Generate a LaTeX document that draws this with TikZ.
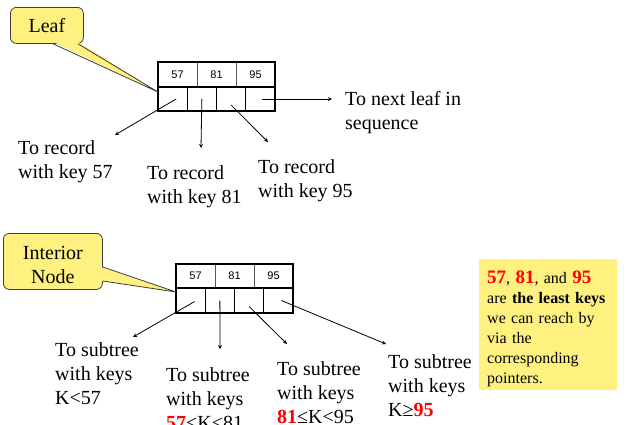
\documentclass[tikz,border=0pt]{standalone}
\usepackage{fontspec}
\setmainfont{Liberation Serif}
\newfontfamily\keyfont{Liberation Sans}
\usetikzlibrary{positioning}

\definecolor{noteyellow}{RGB}{255,241,128}
\definecolor{tagline}{RGB}{60,60,60}
\newcommand{\redkey}[1]{\textcolor{red}{\textbf{#1}}}
\newcommand{\bigred}[1]{{\fontsize{19}{20}\selectfont\bfseries\color{red}#1}}

\tikzset{
  keycell/.style={draw=gray!70!black, line width=0.8pt, minimum width=39pt, minimum height=25pt,
    inner sep=0pt, outer sep=0pt, font=\keyfont\fontsize{11}{13}\selectfont},
  ptrcell/.style={draw=black, line width=1pt, minimum width=29.25pt, minimum height=24pt,
    inner sep=0pt, outer sep=0pt},
  % base west = baseline of the last line
  txtlabel/.style={anchor=base west, align=left, inner sep=0pt, font=\fontsize{20}{24}\selectfont},
  tagbox/.style={draw=tagline, fill=noteyellow, rounded corners=6pt, line width=0.8pt,
    align=center, inner sep=0pt, font=\fontsize{20}{24}\selectfont},
  ptrarrow/.style={->, line width=0.8pt}
}

\begin{document}
\begin{tikzpicture}[x=1pt,y=-1pt,>=stealth]
  \useasboundingbox (0,0) rectangle (629,424);

  % leaf node
  \node[keycell, anchor=north west] (lk1) at (158,62) {57};
  \node[keycell, right=0pt of lk1] (lk2) {81};
  \node[keycell, right=0pt of lk2] (lk3) {95};
  \node[ptrcell, anchor=north west] (lp1) at (158,87) {};
  \node[ptrcell, right=0pt of lp1] (lp2) {};
  \node[ptrcell, right=0pt of lp2] (lp3) {};
  \node[ptrcell, right=0pt of lp3] (lp4) {};
  \draw[line width=2pt] (lk1.north west) rectangle (lp4.south east);
  \draw[line width=2pt] (lp1.north west) -- (lp4.north east);

  \node[tagbox, minimum width=73pt, minimum height=36pt, anchor=north west] (leaftag) at (10,7) {Leaf};
  \fill[noteyellow] ([xshift=43pt,yshift=2pt]leaftag.south west) -- ([yshift=-5pt]lp1.north west)
    -- ([xshift=68pt,yshift=2pt]leaftag.south west) -- cycle;
  \draw[tagline, line width=0.8pt] ([xshift=43pt]leaftag.south west) -- ([yshift=-5pt]lp1.north west)
    -- ([xshift=68pt]leaftag.south west);

  \node[txtlabel] (rec57) at (18,178) {To record\\with key 57};
  \node[txtlabel] (rec81) at (147,203) {To record\\with key 81};
  \node[txtlabel] (rec95) at (258,197) {To record\\with key 95};
  \node[txtlabel] (nextleaf) at (345,129) {To next leaf in\\sequence};

  \coordinate (e57) at (115,135);
  \coordinate (e81) at (201,148);
  \coordinate (e95) at (268,142);
  \coordinate (enext) at (332,99);
  \draw[ptrarrow] ([xshift=3.5pt]lp1.center) -- (e57);
  \draw[ptrarrow] (lp2.center) -- (e81);
  \draw[ptrarrow] ([yshift=-6pt]lp3.center) -- (e95);
  \draw[ptrarrow] ([xshift=2pt]lp4.center) -- (enext);

  % interior node
  \node[keycell, minimum height=24pt, anchor=north west] (ik1) at (176,264) {57};
  \node[keycell, minimum height=24pt, right=0pt of ik1] (ik2) {81};
  \node[keycell, minimum height=24pt, right=0pt of ik2] (ik3) {95};
  \node[ptrcell, minimum height=25pt, anchor=north west] (ip1) at (176,288) {};
  \node[ptrcell, minimum height=25pt, right=0pt of ip1] (ip2) {};
  \node[ptrcell, minimum height=25pt, right=0pt of ip2] (ip3) {};
  \node[ptrcell, minimum height=25pt, right=0pt of ip3] (ip4) {};
  \draw[line width=2pt] (ik1.north west) rectangle (ip4.south east);
  \draw[line width=2pt] (ip1.north west) -- (ip4.north east);

  \node[tagbox, minimum width=99pt, minimum height=56pt, anchor=north west] (inttag) at (3,233)
    {\rule{0pt}{21pt}Interior\\Node};
  \fill[noteyellow] ([xshift=-2pt,yshift=-34pt]inttag.north east) -- ([yshift=-4pt]ip1.north west)
    -- ([xshift=-2pt,yshift=-48pt]inttag.north east) -- cycle;
  \draw[tagline, line width=0.8pt] ([yshift=-34pt]inttag.north east) -- ([yshift=-4pt]ip1.north west)
    -- ([yshift=-48pt]inttag.north east);

  \node[txtlabel] (sub1) at (55,404) {To subtree\\with keys\\K<57};
  \node[txtlabel] (sub2) at (166,429) {To subtree\\with keys\\\redkey{57}<K<81};
  \node[txtlabel] (sub3) at (277,423) {To subtree\\with keys\\\redkey{81}≤K<95};
  \node[txtlabel] (sub4) at (388,416) {To subtree\\with keys\\K≥\redkey{95}};

  \coordinate (s1) at (133,337);
  \coordinate (s2) at (220,349);
  \coordinate (s3) at (287,344);
  \coordinate (s4) at (386,344);
  \draw[ptrarrow] ([xshift=4pt,yshift=-1pt]ip1.center) -- (s1);
  \draw[ptrarrow] (ip2.center) -- (s2);
  \draw[ptrarrow] ([yshift=-6pt]ip3.center) -- (s3);
  \draw[ptrarrow] ([xshift=3pt]ip4.center) -- (s4);

  % note on the right
  \node[anchor=north west, fill=noteyellow, minimum width=138pt, minimum height=131pt,
    text width=122pt, inner xsep=8pt, inner ysep=0pt, align=left,
    font=\fontsize{16}{20}\selectfont] (leastnote) at (479,259)
    {\rule{0pt}{21pt}\bigred{57}, \bigred{81}, and \bigred{95}\\ are \textbf{the least keys}\\ we can reach by\\ via the\\ corresponding\\ pointers.};
\end{tikzpicture}
\end{document}
